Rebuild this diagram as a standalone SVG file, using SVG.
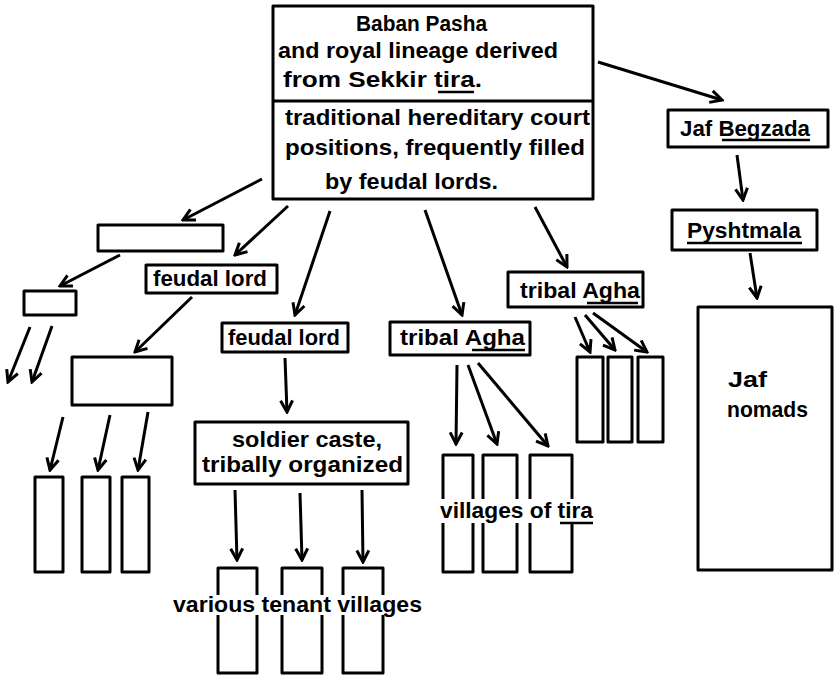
<svg xmlns="http://www.w3.org/2000/svg" width="837" height="677" viewBox="0 0 837 677">
<style>
.b{fill:none;stroke:#000;stroke-width:3;stroke-linejoin:round}
.t{font-family:"Liberation Sans",Arial,sans-serif;font-size:22px;font-weight:bold;fill:#000}
.u{stroke:#000;stroke-width:2.5}
.c line{stroke:#000;stroke-width:3;marker-end:url(#ah)}
</style>
<defs>
<marker id="ah" viewBox="0 0 15 15" refX="13" refY="7.5" markerWidth="15" markerHeight="15" orient="auto" markerUnits="userSpaceOnUse">
<path d="M1.5,1.5 L13,7.5 L1.5,13.5" fill="none" stroke="#000" stroke-width="3"/>
</marker>
</defs>
<rect width="837" height="677" fill="#fff"/>

<g id="baban">
<rect class="b" x="273" y="6" width="320" height="193"/>
<line class="b" x1="273" y1="101" x2="593" y2="101"/>
<text class="t" x="356" y="31" textLength="131" lengthAdjust="spacingAndGlyphs">Baban Pasha</text>
<text class="t" x="278" y="58" textLength="280" lengthAdjust="spacingAndGlyphs">and royal lineage derived</text>
<text class="t" x="283" y="87" textLength="199" lengthAdjust="spacingAndGlyphs">from Sekkir tira.</text>
<line class="u" x1="438" y1="92" x2="474" y2="92"/>
<text class="t" x="285" y="125" textLength="305" lengthAdjust="spacingAndGlyphs">traditional hereditary court</text>
<text class="t" x="285" y="155" textLength="300" lengthAdjust="spacingAndGlyphs">positions, frequently filled</text>
<text class="t" x="325" y="189" textLength="173" lengthAdjust="spacingAndGlyphs">by feudal lords.</text>
</g>

<g id="jaf-begzada">
<rect class="b" x="668" y="110" width="160" height="37"/>
<text class="t" x="680" y="136" textLength="130" lengthAdjust="spacingAndGlyphs">Jaf Begzada</text>
<line class="u" x1="722" y1="140" x2="810" y2="140"/>
</g>

<g id="pyshtmala">
<rect class="b" x="672" y="210" width="145" height="40"/>
<text class="t" x="687" y="238" textLength="114" lengthAdjust="spacingAndGlyphs">Pyshtmala</text>
<line class="u" x1="687" y1="243" x2="802" y2="243"/>
</g>

<g id="jaf-nomads">
<rect class="b" x="698" y="307" width="134" height="263"/>
<text class="t" x="728" y="387" textLength="39" lengthAdjust="spacingAndGlyphs">Jaf</text>
<text class="t" x="727" y="417" textLength="81" lengthAdjust="spacingAndGlyphs">nomads</text>
</g>

<g id="empty-wide">
<rect class="b" x="98" y="225" width="125" height="26"/>
</g>
<g id="empty-small">
<rect class="b" x="24" y="291" width="52" height="24"/>
</g>

<g id="feudal-lord-1">
<rect class="b" x="146" y="265" width="131" height="28"/>
<text class="t" x="153" y="286" textLength="114" lengthAdjust="spacingAndGlyphs">feudal lord</text>
</g>

<g id="empty-medium">
<rect class="b" x="72" y="357" width="100" height="48"/>
</g>
<g id="lower-left-boxes">
<rect class="b" x="35" y="477" width="28" height="95"/>
<rect class="b" x="82" y="477" width="28" height="95"/>
<rect class="b" x="122" y="477" width="27" height="95"/>
</g>

<g id="feudal-lord-2">
<rect class="b" x="222" y="323" width="126" height="29"/>
<text class="t" x="228" y="345" textLength="112" lengthAdjust="spacingAndGlyphs">feudal lord</text>
</g>

<g id="soldier-caste">
<rect class="b" x="195" y="422" width="213" height="62"/>
<text class="t" x="232" y="447" textLength="150" lengthAdjust="spacingAndGlyphs">soldier caste,</text>
<text class="t" x="202" y="472" textLength="201" lengthAdjust="spacingAndGlyphs">tribally organized</text>
</g>

<g id="tenant-villages">
<path class="b" d="M218,595 V568 H257 V595 M218,615 V673 H257 V615"/>
<path class="b" d="M282,595 V568 H322 V595 M282,615 V673 H322 V615"/>
<path class="b" d="M343,595 V568 H383 V595 M343,615 V673 H383 V615"/>
<text class="t" x="173" y="612" textLength="249" lengthAdjust="spacingAndGlyphs">various tenant villages</text>
</g>

<g id="tribal-agha-1">
<rect class="b" x="390" y="322" width="140" height="33"/>
<text class="t" x="400" y="345" textLength="125" lengthAdjust="spacingAndGlyphs">tribal Agha</text>
<line class="u" x1="472" y1="350" x2="525" y2="350"/>
</g>

<g id="villages-of-tira">
<path class="b" d="M443,499 V455 H473 V499 M443,523 V572 H473 V523"/>
<path class="b" d="M483,499 V455 H517 V499 M483,523 V572 H517 V523"/>
<path class="b" d="M530,499 V455 H572 V499 M530,523 V572 H572 V523"/>
<text class="t" x="440" y="518" textLength="153" lengthAdjust="spacingAndGlyphs">villages of tira</text>
<line class="u" x1="560" y1="523" x2="593" y2="523"/>
</g>

<g id="tribal-agha-2">
<rect class="b" x="508" y="272" width="135" height="35"/>
<text class="t" x="520" y="298" textLength="120" lengthAdjust="spacingAndGlyphs">tribal Agha</text>
<line class="u" x1="587" y1="303" x2="638" y2="303"/>
</g>

<g id="agha-2-boxes">
<rect class="b" x="577" y="357" width="26" height="85"/>
<rect class="b" x="608" y="357" width="24" height="85"/>
<rect class="b" x="638" y="357" width="25" height="85"/>
</g>

<g id="connectors" class="c">
<line x1="598" y1="62" x2="722" y2="100"/>
<line x1="737" y1="155" x2="743" y2="200"/>
<line x1="750" y1="253" x2="757" y2="298"/>
<line x1="262" y1="179" x2="183" y2="220"/>
<line x1="288" y1="206" x2="235" y2="255"/>
<line x1="330" y1="211" x2="295" y2="315"/>
<line x1="425" y1="210" x2="462" y2="315"/>
<line x1="535" y1="207" x2="567" y2="267"/>
<line x1="120" y1="255" x2="60" y2="286"/>
<line x1="30" y1="327" x2="8" y2="382"/>
<line x1="52" y1="326" x2="32" y2="382"/>
<line x1="192" y1="297" x2="135" y2="352"/>
<line x1="63" y1="417" x2="50" y2="470"/>
<line x1="110" y1="415" x2="98" y2="470"/>
<line x1="148" y1="412" x2="138" y2="470"/>
<line x1="285" y1="358" x2="287" y2="412"/>
<line x1="235" y1="490" x2="237" y2="560"/>
<line x1="300" y1="493" x2="302" y2="560"/>
<line x1="362" y1="490" x2="363" y2="562"/>
<line x1="457" y1="365" x2="456" y2="444"/>
<line x1="468" y1="365" x2="497" y2="444"/>
<line x1="478" y1="363" x2="548" y2="446"/>
<line x1="575" y1="317" x2="590" y2="352"/>
<line x1="585" y1="315" x2="615" y2="350"/>
<line x1="593" y1="313" x2="647" y2="352"/>
</g>
</svg>
